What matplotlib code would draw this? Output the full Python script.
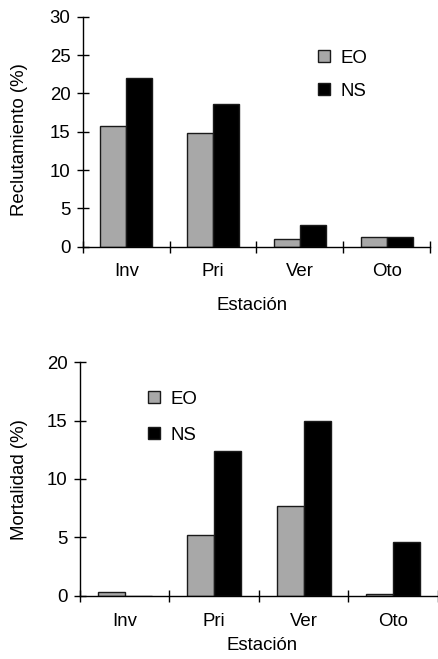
import matplotlib
matplotlib.use("Agg")
import matplotlib.pyplot as plt
import numpy as np

plt.rcParams['font.family'] = ['Liberation Sans', 'DejaVu Sans']

estaciones = ["Inv", "Pri", "Ver", "Oto"]
series = ["EO", "NS"]
reclut_eo = [15.7, 14.8, 1.0, 1.2]
reclut_ns = [22.0, 18.6, 2.8, 1.2]
mort_eo = [0.3, 5.2, 7.7, 0.15]
mort_ns = [0.0, 12.4, 15.0, 4.6]

colors = ["#a8a8a8", "#000000"]
fs = 13.4

fig = plt.figure(figsize=(4.39, 6.59), dpi=100)

def panel(rect, eo, ns, ymax, ystep, ylabel, leg_anchor, leg_spacing,
          xtick_pad, ylab_xy, xlab_xy):
    ax = fig.add_axes(rect)
    x = np.arange(len(estaciones)) + 0.5
    w = 0.3
    ax.bar(x - w / 2, eo, w, color=colors[0], edgecolor="#1a1a1a", linewidth=1.0, label=series[0])
    ax.bar(x + w / 2, ns, w, color=colors[1], edgecolor="#1a1a1a", linewidth=1.0, label=series[1])
    ax.set_xlim(0, len(estaciones))
    ax.set_ylim(0, ymax)
    ax.set_yticks(np.arange(0, ymax + 0.1, ystep))
    ax.set_xticks(np.arange(0, len(estaciones) + 1))
    ax.set_xticklabels([])
    ax.set_xticks(x, minor=True)
    ax.set_xticklabels(estaciones, minor=True, fontsize=fs)
    ax.tick_params(axis="x", which="major", direction="inout", length=8, width=1, color="black")
    ax.tick_params(axis="x", which="minor", length=0, pad=xtick_pad)
    ax.tick_params(axis="y", direction="inout", length=8, width=1, labelsize=fs, pad=5)
    for s in ["top", "right"]:
        ax.spines[s].set_visible(False)
    for s in ["left", "bottom"]:
        ax.spines[s].set_linewidth(1.0)
        ax.spines[s].set_clip_on(False)
    ax.set_ylabel(ylabel, fontsize=fs)
    ax.yaxis.set_label_coords(*ylab_xy)
    ax.set_xlabel("Estación", fontsize=fs)
    ax.xaxis.set_label_coords(*xlab_xy)
    ax.legend(loc="upper left", bbox_to_anchor=leg_anchor, frameon=False, fontsize=fs,
              handlelength=0.65, handleheight=0.65, labelspacing=leg_spacing, handletextpad=0.55,
              borderaxespad=0, borderpad=0)
    return ax

panel([0.189, 0.6257, 0.7905, 0.349], reclut_eo, reclut_ns, 30, 5,
      "Reclutamiento (%)", (0.677, 0.857), 0.86, 11.5, (-0.157, 0.464), (0.488, -0.218))
panel([0.1822, 0.0961, 0.8155, 0.3541], mort_eo, mort_ns, 20, 5,
      "Mortalidad (%)", (0.19, 0.879), 1.02, 12.2, (-0.144, 0.496), (0.508, -0.177))

fig.savefig("out.png", dpi=100)
